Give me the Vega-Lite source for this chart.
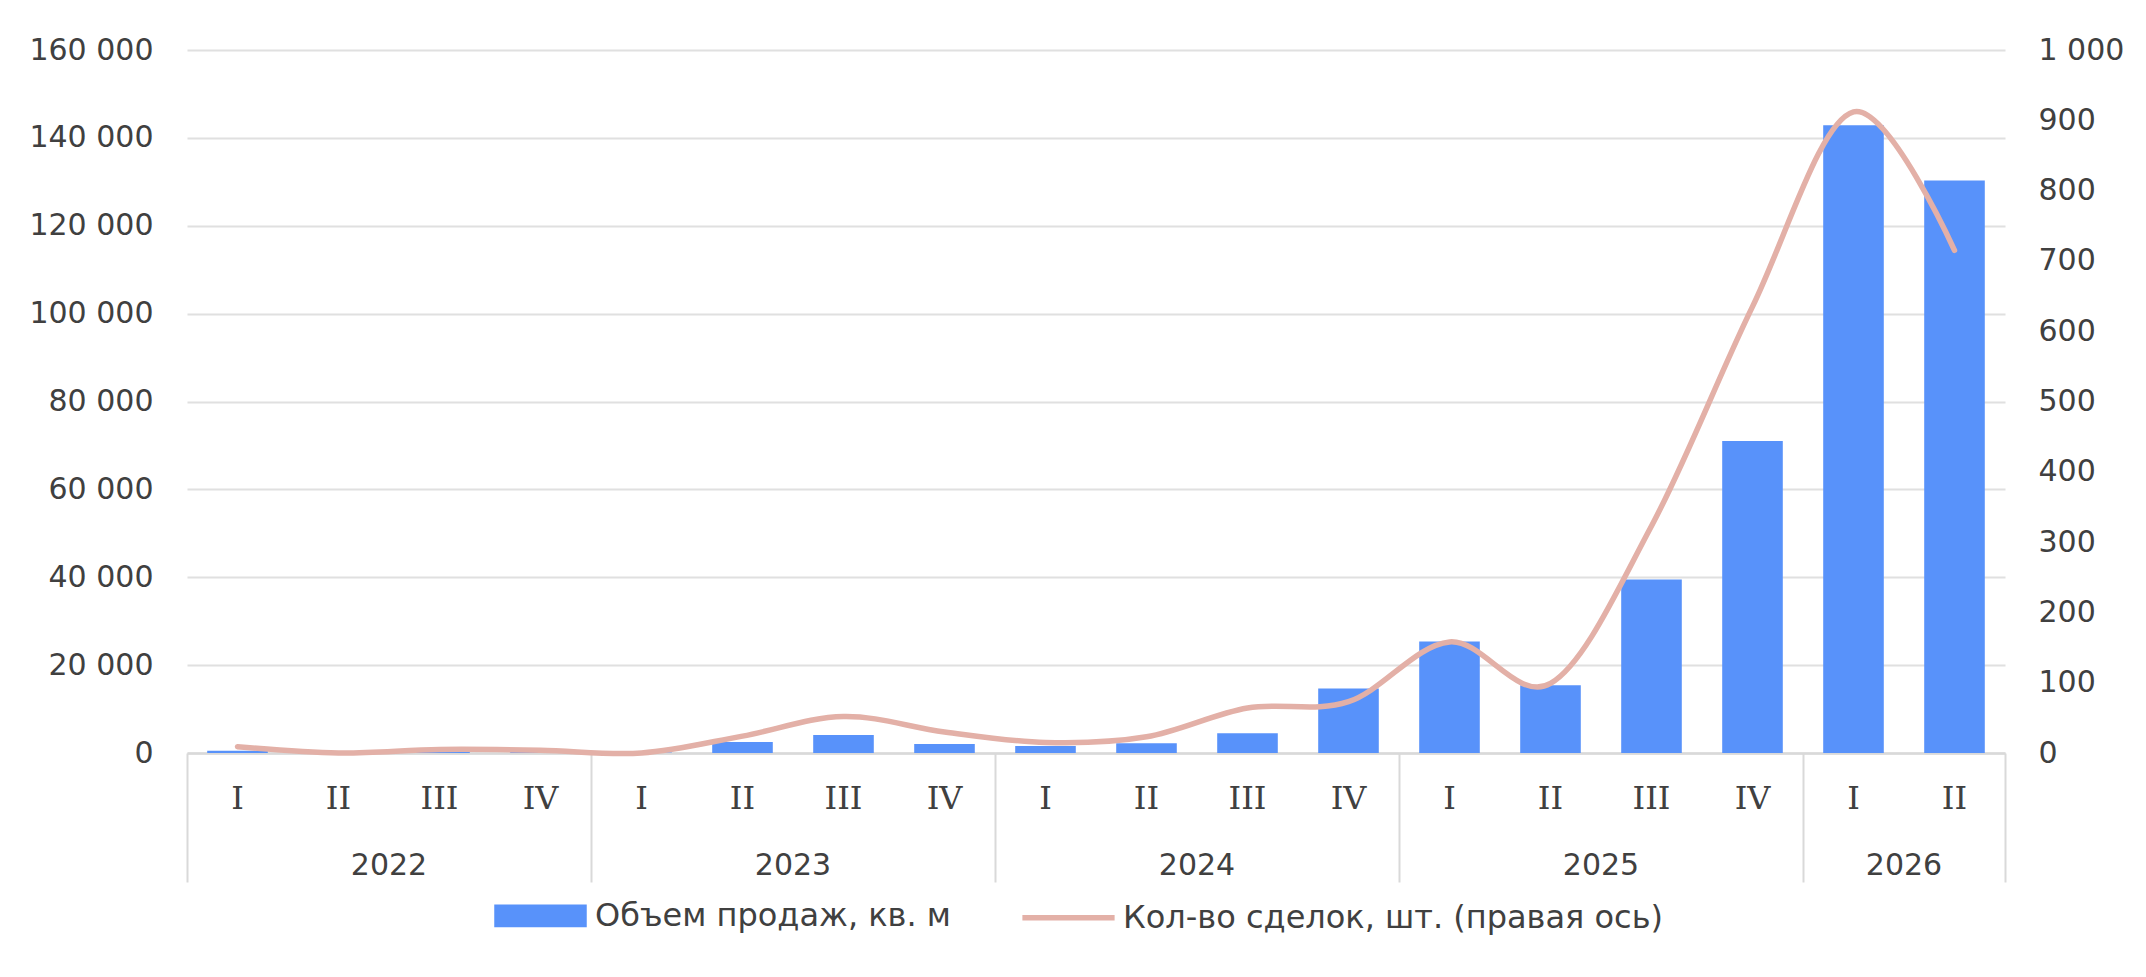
{
  "$schema": "https://vega.github.io/schema/vega-lite/v6.json",
  "width": 1818,
  "height": 703,
  "autosize": {"type": "none"},
  "padding": {"left": 187, "top": 50, "right": 141, "bottom": 224},
  "background": "white",
  "config": {
    "view": {"stroke": null},
    "font": "DejaVu Sans",
    "axis": {"labelFont": "DejaVu Sans", "labelFontSize": 30, "labelColor": "#404040", "title": null, "labelOverlap": false, "labelBound": false, "labelFlush": false}
  },
  "data": {
    "values": [
      {"key": "2022-I", "area": 500, "deals": 9},
      {"key": "2022-II", "area": 150, "deals": 0},
      {"key": "2022-III", "area": 500, "deals": 5},
      {"key": "2022-IV", "area": 400, "deals": 4},
      {"key": "2023-I", "area": 100, "deals": 0},
      {"key": "2023-II", "area": 2500, "deals": 24},
      {"key": "2023-III", "area": 4100, "deals": 52},
      {"key": "2023-IV", "area": 2050, "deals": 30},
      {"key": "2024-I", "area": 1600, "deals": 15},
      {"key": "2024-II", "area": 2200, "deals": 23},
      {"key": "2024-III", "area": 4500, "deals": 64},
      {"key": "2024-IV", "area": 14700, "deals": 73},
      {"key": "2025-I", "area": 25400, "deals": 158},
      {"key": "2025-II", "area": 15400, "deals": 99},
      {"key": "2025-III", "area": 39500, "deals": 323},
      {"key": "2025-IV", "area": 71000, "deals": 635},
      {"key": "2026-I", "area": 142900, "deals": 912},
      {"key": "2026-II", "area": 130300, "deals": 715}
    ]
  },
  "layer": [
    {
      "mark": {"type": "bar", "width": {"band": 0.6}},
      "encoding": {
        "x": {
          "field": "key", "type": "nominal", "sort": null,
          "scale": {"paddingInner": 0, "paddingOuter": 0},
          "axis": {
            "orient": "bottom",
            "labelExpr": "split(datum.value, '-')[1]",
            "labelFont": "DejaVu Serif", "labelFontSize": 32,
            "labelAngle": 0, "labelBaseline": "middle", "labelPadding": 45,
            "ticks": false, "tickSize": 0, "grid": false,
            "domain": true, "domainColor": "#D9D9D9", "domainWidth": 2.5
          }
        },
        "y": {
          "field": "area", "type": "quantitative",
          "scale": {"domain": [0, 160000], "nice": false},
          "axis": {
            "orient": "left",
            "values": [0, 20000, 40000, 60000, 80000, 100000, 120000, 140000, 160000],
            "labelExpr": "replace(format(datum.value, ','), ',', ' ')",
            "labelPadding": 34, "ticks": false, "domain": false,
            "grid": true, "gridColor": "#E0E0E0", "gridWidth": 2
          }
        },
        "color": {
          "datum": "Объем продаж, кв. м",
          "scale": {"domain": ["Объем продаж, кв. м", "Кол-во сделок, шт. (правая ось)"], "range": ["#5892FA", "#E3B0A7"]},
          "legend": {
            "orient": "none", "legendX": 307, "legendY": 819, "direction": "horizontal",
            "title": null, "padding": 0,
            "symbolSize": 7569, "labelOffset": 8, "columnPadding": 60,
            "labelFont": "DejaVu Sans", "labelFontSize": 32, "labelColor": "#404040", "labelLimit": 1000,
            "encode": {
              "symbols": {
                "update": {
                  "shape": {"signal": "datum.value === 'Объем продаж, кв. м' ? 'M-1,-0.2H1V0.2H-1Z' : 'M-1.06,0H1.06'"},
                  "fill": {"signal": "datum.value === 'Объем продаж, кв. м' ? '#5892FA' : 'transparent'"},
                  "stroke": {"signal": "datum.value === 'Объем продаж, кв. м' ? 'transparent' : '#E3B0A7'"},
                  "strokeWidth": {"value": 5.5},
                  "opacity": {"value": 1},
                  "fillOpacity": {"value": 1},
                  "strokeOpacity": {"value": 1}
                }
              }
            }
          }
        }
      }
    },
    {
      "mark": {"type": "line", "interpolate": "cardinal", "strokeWidth": 5.5, "strokeCap": "round"},
      "encoding": {
        "x": {
          "field": "key", "type": "nominal", "sort": null,
          "axis": {
            "orient": "bottom",
            "values": ["2022-II", "2023-II", "2024-II", "2025-II", "2026-I"],
            "labelExpr": "split(datum.value, '-')[0]",
            "labelOffset": 50.5, "labelAngle": 0, "labelBaseline": "middle", "labelPadding": 112,
            "ticks": false, "tickSize": 0, "grid": false, "domain": false
          }
        },
        "y": {
          "field": "deals", "type": "quantitative",
          "scale": {"domain": [0, 1000], "nice": false},
          "axis": {
            "orient": "right",
            "values": [0, 100, 200, 300, 400, 500, 600, 700, 800, 900, 1000],
            "labelExpr": "replace(format(datum.value, ','), ',', ' ')",
            "labelPadding": 33, "ticks": false, "domain": false, "grid": false
          }
        },
        "color": {"datum": "Кол-во сделок, шт. (правая ось)"}
      }
    },
    {
      "mark": {"type": "text"},
      "encoding": {
        "x": {
          "field": "key", "type": "nominal", "sort": null,
          "axis": {
            "orient": "bottom",
            "values": ["2022-I", "2023-I", "2024-I", "2025-I", "2026-I"],
            "bandPosition": 0, "labels": false, "domain": false, "grid": false,
            "ticks": true, "tickSize": 129, "tickColor": "#D9D9D9", "tickWidth": 2
          }
        },
        "text": {"value": ""}
      }
    },
    {
      "mark": {"type": "text"},
      "encoding": {
        "x": {
          "field": "key", "type": "nominal", "sort": null,
          "axis": {
            "orient": "bottom",
            "values": ["2026-II"],
            "bandPosition": 1, "labels": false, "domain": false, "grid": false,
            "ticks": true, "tickSize": 129, "tickColor": "#D9D9D9", "tickWidth": 2
          }
        },
        "text": {"value": ""}
      }
    }
  ],
  "resolve": {"scale": {"y": "independent"}, "axis": {"x": "independent"}}
}
